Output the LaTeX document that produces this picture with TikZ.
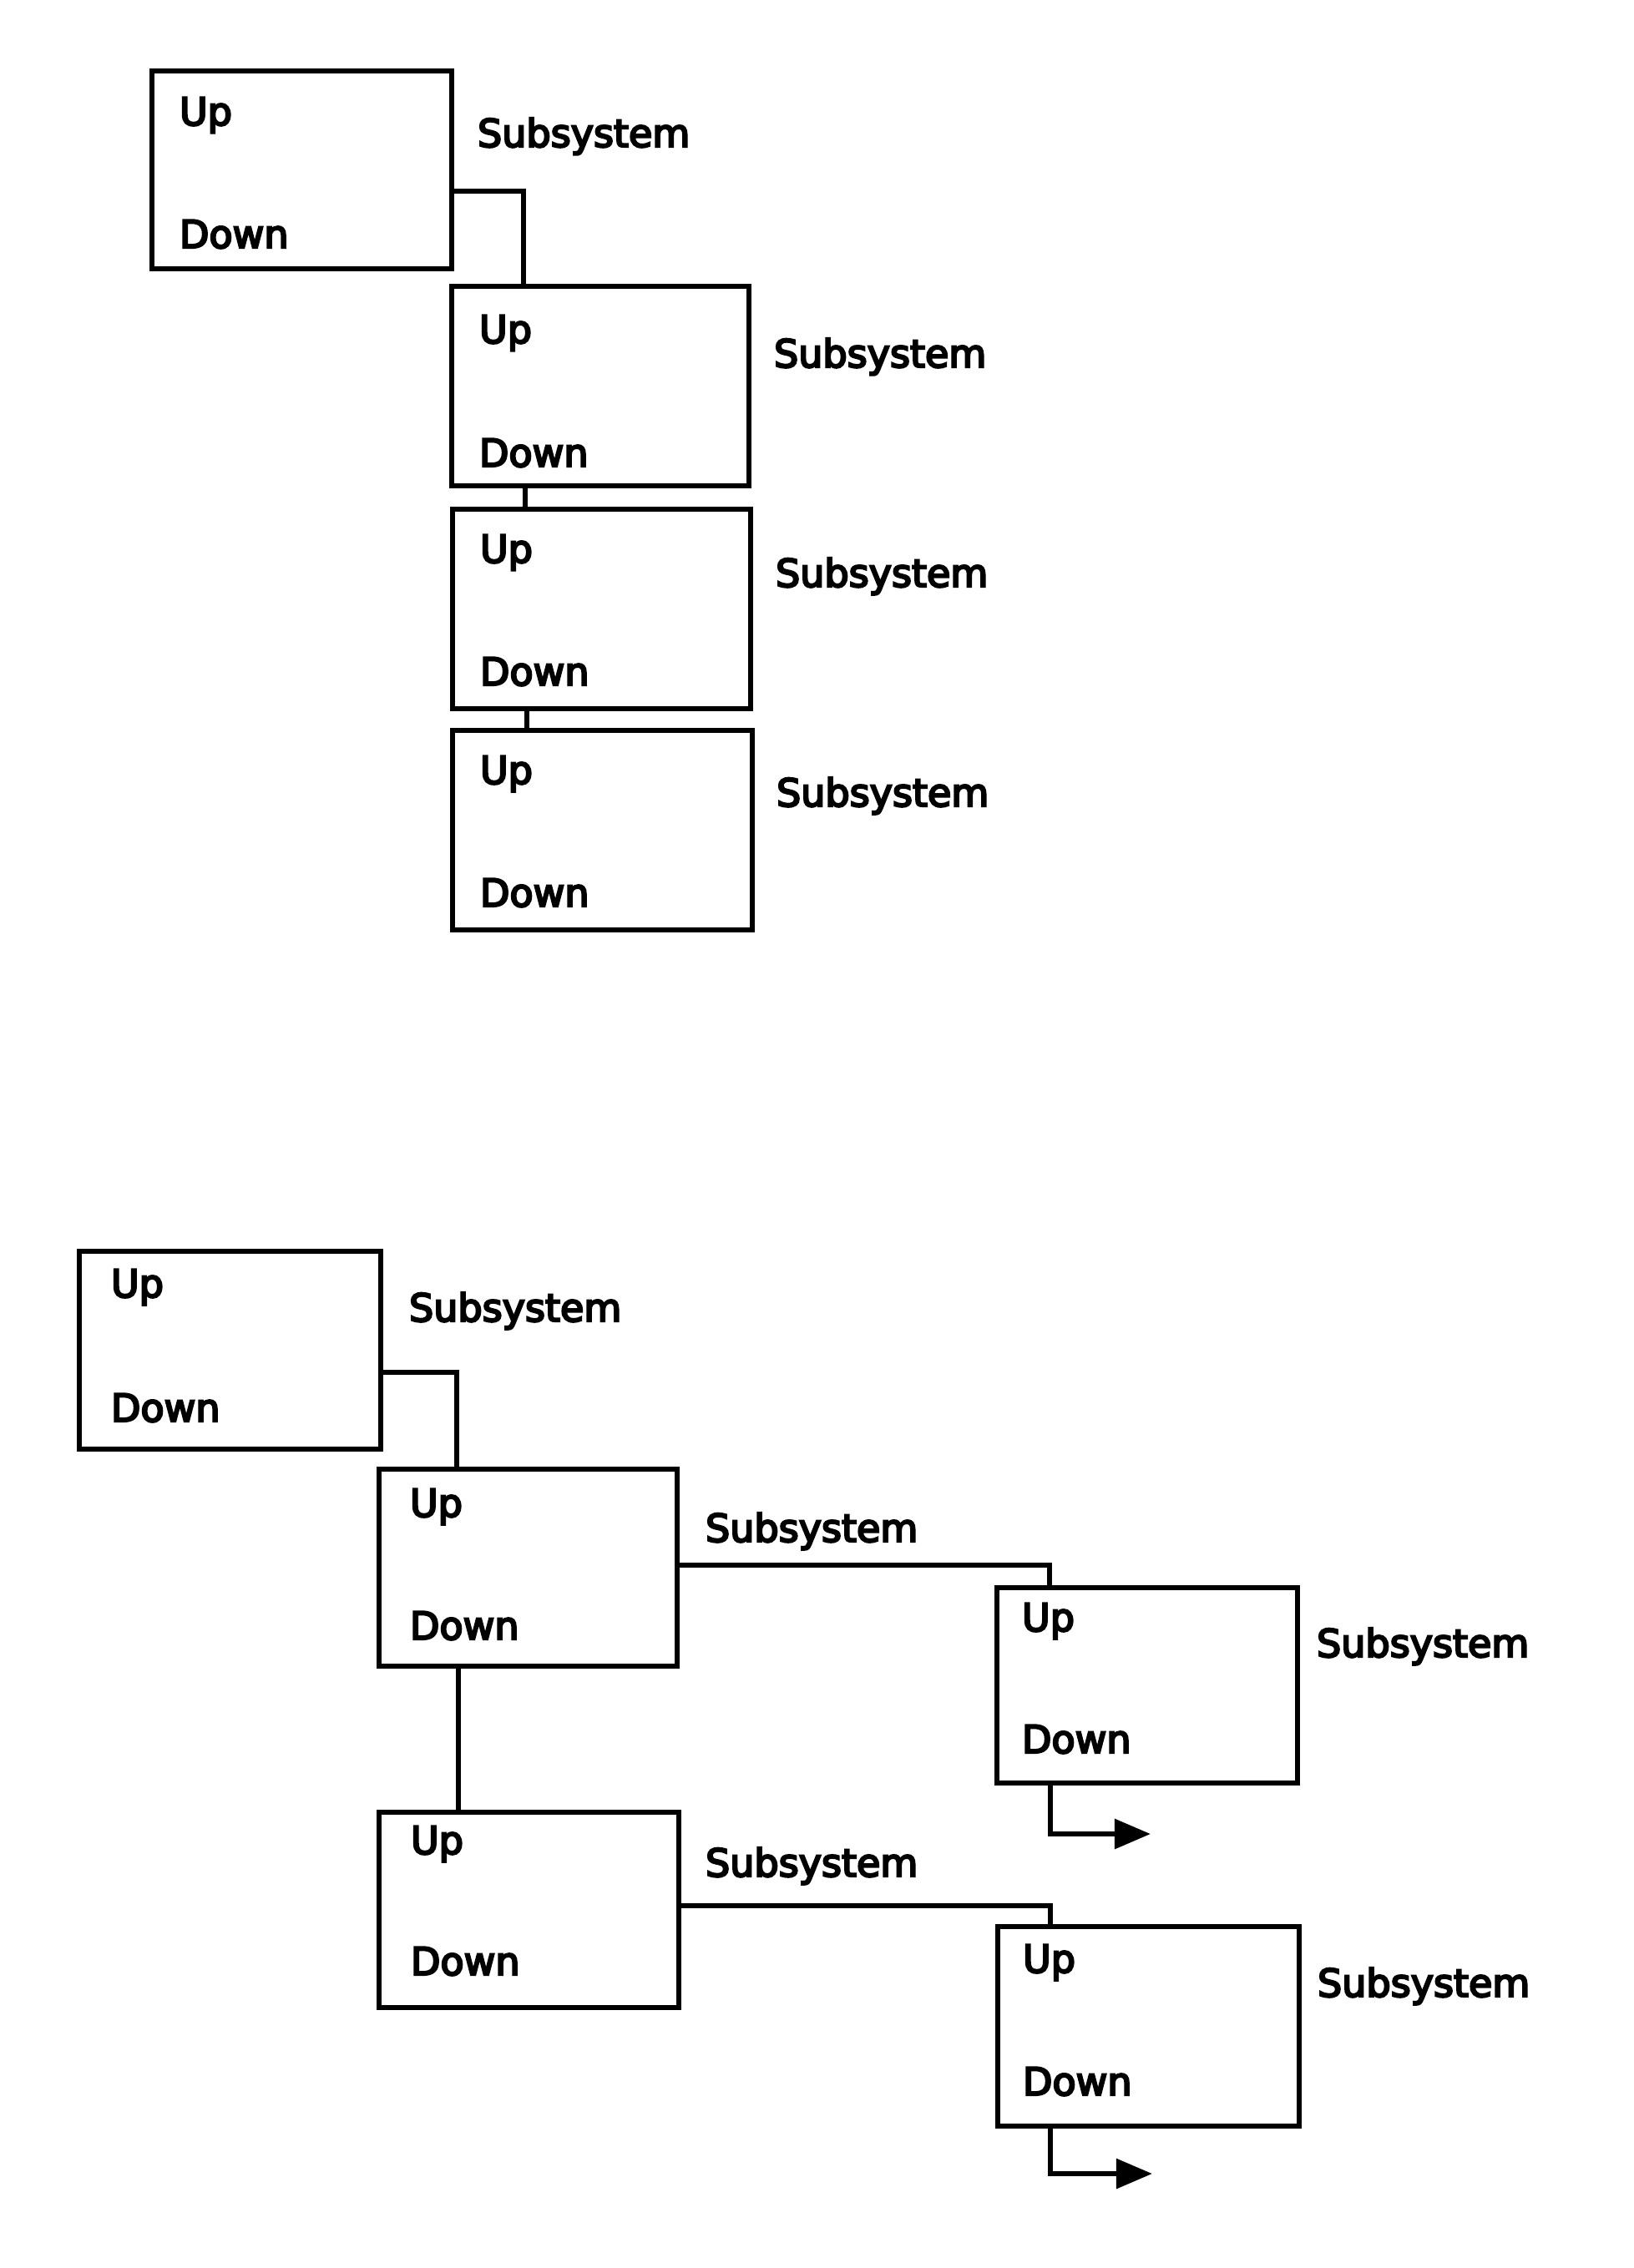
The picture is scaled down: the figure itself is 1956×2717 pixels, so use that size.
\documentclass[tikz,border=0pt]{standalone}
\usepackage{fontspec}
\setmainfont{DejaVu Sans}[FakeBold=5]
\usetikzlibrary{fit,calc,arrows.meta}
\tikzset{
  box/.style={draw, line width=0.065cm, inner sep=0pt, outer sep=0pt, rectangle},
  txt/.style={inner sep=0pt, outer sep=0pt, anchor=base west, font=\fontsize{13.1pt}{15pt}\selectfont},
  conn/.style={line width=0.06cm},
  arr/.style={conn, -{Triangle[length=0.43cm, width=0.35cm]}},
}
% name, x offset, Up baseline below top, Down baseline above bottom
\newcommand\updown[4]{%
  \node[txt] (#1up) at ($(#1.north west)+(#2,#3)$) {Up};
  \node[txt] (#1down) at ($(#1.south west)+(#2,-#4)$) {Down};
}
\begin{document}
\begin{tikzpicture}[x=0.01cm, y=-0.01cm]
\useasboundingbox (0,0) rectangle (1956,2717);
% top group
\node[box, fit={(182,85)(541,322)}] (A) {};
\node[box, fit={(541,343)(897,582)}] (B) {};
\node[box, fit={(542,610)(899,849)}] (C) {};
\node[box, fit={(542,875)(901,1114)}] (D) {};
\updown{A}{33}{65}{25}
\updown{B}{33}{68}{23}
\updown{C}{33}{64}{28}
\updown{D}{33}{64}{28}
\node[txt] (As) at (572,176) {Subsystem};
\node[txt] (Bs) at (927,440) {Subsystem};
\node[txt] (Cs) at (929,703) {Subsystem};
\node[txt] (Ds) at (930,966) {Subsystem};
\draw[conn] (A.east |- 0,229) -| (B.north -| 627,0);
\draw[conn] (B.south -| 629,0) -- (C.north -| 629,0);
\draw[conn] (C.south -| 631,0) -- (D.north -| 631,0);
% bottom group
\node[box, fit={(95,1499)(456,1736)}] (E) {};
\node[box, fit={(454,1760)(811,1996)}] (F) {};
\node[box, fit={(1194,1902)(1554,2136)}] (G) {};
\node[box, fit={(454,2171)(813,2405)}] (H) {};
\node[box, fit={(1195,2308)(1556,2547)}] (I) {};
\updown{E}{38}{55}{33}
\updown{F}{37}{57}{32}
\updown{G}{30}{52}{36}
\updown{H}{38}{50}{39}
\updown{I}{30}{55}{37}
\node[txt] (Es) at (490,1583) {Subsystem};
\node[txt] (Fs) at (845,1847) {Subsystem};
\node[txt] (Gs) at (1577,1985) {Subsystem};
\node[txt] (Hs) at (845,2248) {Subsystem};
\node[txt] (Is) at (1578,2392) {Subsystem};
\draw[conn] (E.east |- 0,1644) -| (F.north -| 547,0);
\draw[conn] (F.east |- 0,1875) -| (G.north -| 1257,0);
\draw[conn] (F.south -| 549,0) -- (H.north -| 549,0);
\draw[conn] (H.east |- 0,2283) -| (I.north -| 1258,0);
\coordinate (Gout) at (1378,2197);
\coordinate (Iout) at (1380,2604);
\draw[arr] (G.south -| 1258,0) |- (Gout);
\draw[arr] (I.south -| 1258,0) |- (Iout);
\end{tikzpicture}
\end{document}
